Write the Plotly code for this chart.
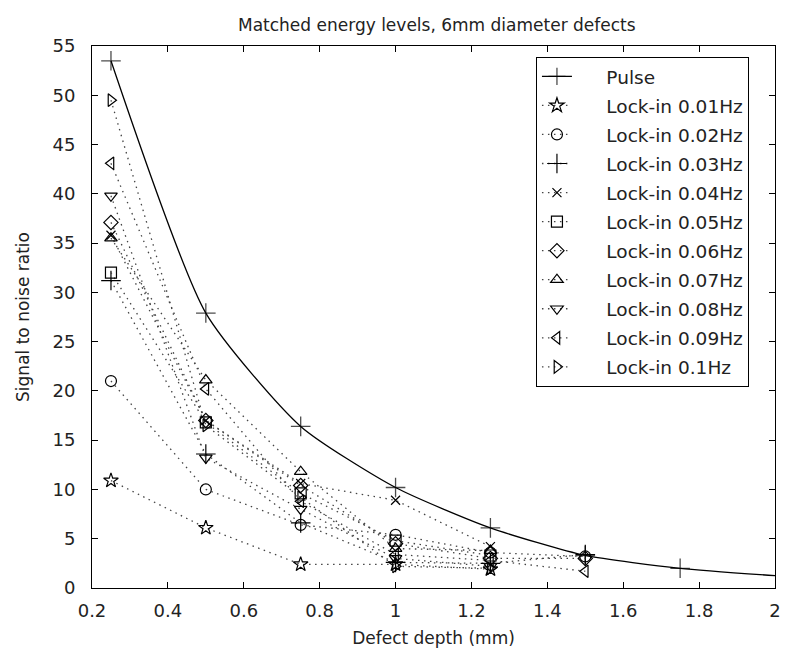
import plotly.graph_objects as go

depth = [0.25, 0.5, 0.75, 1.0, 1.25, 1.5]
pulse_depth = [0.25, 0.5, 0.75, 1.0, 1.25, 1.5, 1.75, 2.0]
pulse_snr = [53.5, 27.9, 16.4, 10.2, 6.1, 3.3, 2.0, 1.25]

lock_names = ["Lock-in 0.01Hz", "Lock-in 0.02Hz", "Lock-in 0.03Hz", "Lock-in 0.04Hz",
              "Lock-in 0.05Hz", "Lock-in 0.06Hz", "Lock-in 0.07Hz", "Lock-in 0.08Hz",
              "Lock-in 0.09Hz", "Lock-in 0.1Hz"]
snr_001 = [10.9, 6.1, 2.4, 2.4, 1.9, None]
snr_002 = [21.0, 10.0, 6.4, 5.4, 3.6, 3.2]
snr_003 = [31.2, 13.6, 6.6, 2.6, 2.5, 3.4]
snr_004 = [35.8, 17.0, 10.6, 8.9, 4.2, None]
snr_005 = [32.0, 16.8, 9.6, 4.8, 3.3, None]
snr_006 = [37.1, 17.0, 10.4, 4.5, 3.0, 3.0]
snr_007 = [35.5, 21.1, 11.8, 4.0, 3.8, None]
snr_008 = [39.8, 13.2, 8.0, 3.0, 2.2, None]
snr_009 = [43.1, 20.2, 8.8, 3.4, 2.8, 1.7]
snr_010 = [49.5, 16.5, 9.2, 2.2, 2.0, None]
lock_values = [snr_001, snr_002, snr_003, snr_004, snr_005,
               snr_006, snr_007, snr_008, snr_009, snr_010]

symbols = ["star-open", "circle-open", "cross-thin-open", "x-thin-open", "square-open",
           "diamond-open", "triangle-up-open", "triangle-down-open",
           "triangle-left-open", "triangle-right-open"]
sizes = [11, 11, 14, 9, 11, 11, 11, 11, 11, 11]

x_ticks = [0.2, 0.4, 0.6, 0.8, 1.0, 1.2, 1.4, 1.6, 1.8, 2.0]
x_tick_text = ["0.2", "0.4", "0.6", "0.8", "1", "1.2", "1.4", "1.6", "1.8", "2"]
y_ticks = list(range(0, 56, 5))

FONT = "DejaVu Sans"
PAD = "\u00a0" * 5
fig = go.Figure()

fig.add_trace(go.Scatter(
    x=pulse_depth, y=pulse_snr, name=PAD + "Pulse", mode="lines+markers",
    line=dict(color="black", width=1.3, shape="spline", smoothing=0.6),
    marker=dict(symbol="cross-thin-open", size=[14] * 7 + [0],
                line=dict(color="black", width=1.3)),
    legendgroup="g0",
))

for i, (nm, vals) in enumerate(zip(lock_names, lock_values)):
    fig.add_trace(go.Scatter(
        x=depth, y=vals, name=PAD + nm, mode="lines+markers",
        line=dict(color="#444444", width=1.3, dash="1.5px,4.5px"),
        marker=dict(symbol=symbols[i], size=sizes[i], color="black",
                    line=dict(color="black", width=1.2)),
        connectgaps=False,
        legendgroup="g%d" % (i + 1),
    ))

axis_common = dict(
    showline=True, linecolor="black", linewidth=1, mirror="ticks",
    ticks="inside", ticklen=6, tickcolor="black", showgrid=False, zeroline=False,
    tickfont=dict(family=FONT, size=18, color="#222"),
)

fig.update_layout(
    width=787, height=651,
    margin=dict(l=92, r=6, t=46, b=63),
    paper_bgcolor="white", plot_bgcolor="white",
    font=dict(family=FONT, size=18, color="#222"),
    title=dict(text="Matched energy levels, 6mm diameter defects",
               x=0.555, xanchor="center", y=0.962, yanchor="middle",
               font=dict(family=FONT, size=17, color="#222")),
    xaxis=dict(range=[0.2, 2.0], tickvals=x_ticks, ticktext=x_tick_text,
               ticklabelstandoff=6,
               title=dict(text="Defect depth (mm)", standoff=12,
                          font=dict(family=FONT, size=17)),
               **axis_common),
    yaxis=dict(range=[0, 55], tickvals=y_ticks, ticklabelstandoff=12,
               title=dict(text="Signal to noise ratio", standoff=18,
                          font=dict(family=FONT, size=17)),
               **axis_common),
    legend=dict(x=0.65, y=0.98, xanchor="left", yanchor="top",
                bgcolor="white", bordercolor="black", borderwidth=1,
                font=dict(family=FONT, size=18.5, color="#222"),
                traceorder="grouped", tracegroupgap=2),
    showlegend=True,
)

fig.write_html("out.html")
